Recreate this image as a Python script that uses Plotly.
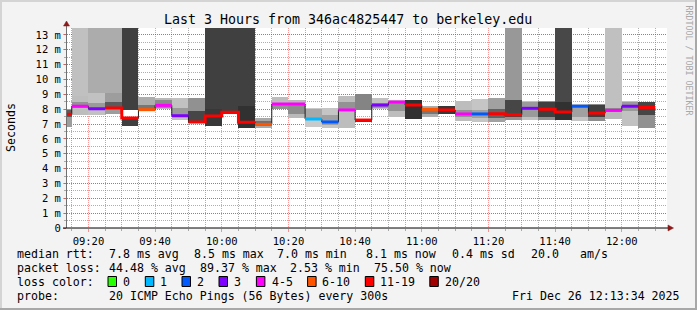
import plotly.graph_objects as go
from datetime import datetime, timedelta

DAY = "2025-12-26"
INF = float("inf")

# ---------------- data ----------------
bin_start = ["09:10", "09:15", "09:20", "09:25", "09:30", "09:35", "09:40", "09:45", "09:50", "09:55",
             "10:00", "10:05", "10:10", "10:15", "10:20", "10:25", "10:30", "10:35", "10:40", "10:45",
             "10:50", "10:55", "11:00", "11:05", "11:10", "11:15", "11:20", "11:25", "11:30", "11:35",
             "11:40", "11:45", "11:50", "11:55", "12:00", "12:05"]

median_ms = [7.66, 8.20, 8.03, 8.08, 7.40, 7.97, 8.26, 7.56, 7.14, 7.54,
             7.79, 7.12, 6.98, 8.35, 8.35, 7.34, 7.14, 7.95, 7.27, 8.28,
             8.48, 8.28, 7.99, 7.95, 7.68, 7.68, 7.70, 7.63, 8.06, 7.99,
             7.81, 8.20, 7.74, 7.92, 8.20, 8.12]

loss_cnt = [12, 4, 3, 12, 16, 8, 5, 3, 15, 17,
            14, 18, 9, 4, 5, 1, 2, 4, 15, 3,
            4, 18, 8, 17, 4, 2, 11, 15, 3, 16,
            18, 2, 16, 5, 3, 15]

ping_lo = [6.80, 7.60, 7.60, 7.70, 6.85, 7.85, 8.00, 7.30, 7.08, 6.85,
           7.72, 6.75, 6.75, 8.00, 7.40, 6.80, 6.75, 6.75, 7.20, 8.00,
           7.50, 7.34, 7.50, 7.65, 7.20, 7.16, 7.16, 7.30, 7.30, 7.30,
           7.27, 7.20, 7.20, 7.35, 6.85, 6.75]
ping_hi = [8.00, 8.90, 9.10, 9.10, 7.50, 8.80, 8.75, 8.75, 8.75, 8.00,
           7.85, 8.20, 7.40, 8.80, 8.60, 8.10, 8.10, 8.90, 7.32, 8.75,
           8.60, 8.60, 8.20, 8.20, 8.55, 8.70, 8.78, 8.60, 8.55, 8.55,
           8.50, 8.35, 8.35, 8.10, 8.55, 8.50]
core_lo = [7.50, 8.05, 7.95, 8.00, 6.85, 7.95, 8.10, 7.45, 7.10, 6.85,
           7.72, 6.75, 6.90, 8.00, 7.70, 7.25, 6.95, 7.90, 7.20, 8.10,
           7.90, 7.34, 7.70, 7.65, 7.45, 7.40, 7.40, 7.45, 7.50, 7.50,
           7.27, 7.50, 7.50, 7.80, 7.90, 7.60]
core_hi = [7.95, 8.50, 8.45, 8.50, 7.45, 8.30, 8.60, 8.10, 7.90, 8.00,
           7.85, 8.20, 7.20, 8.35, 8.30, 8.00, 7.60, 8.50, 7.32, 8.45,
           8.50, 8.60, 8.10, 8.20, 7.95, 7.95, 8.00, 8.60, 8.50, 8.50,
           8.50, 8.20, 8.30, 8.10, 8.50, 8.50]

# upper ping cluster (INF = beyond the top of the chart)
upper_lo = [None, 8.90, 9.10, 9.10, 7.95, None, None, None, None, 8.00,
            7.90, 8.20, None, None, None, None, None, None, 7.95, None,
            None, None, None, None, None, None, None, 8.60, None, None,
            8.50, None, None, 8.10, None, None]
upper_hi = [None, INF, INF, INF, INF, None, None, None, None, INF,
            INF, INF, None, None, None, None, None, None, 9.00, None,
            None, None, None, None, None, None, None, INF, None, None,
            INF, None, None, INF, None, None]
upper_n = [0, 1, 2, 2, 8, 0, 0, 0, 0, 8,
           8, 8, 0, 0, 0, 0, 0, 0, 4, 0,
           0, 0, 0, 0, 0, 0, 0, 3, 0, 0,
           7, 0, 0, 1, 0, 0]

y_ticks = list(range(0, 14))
y_ticktext = ["0"] + [f"{v} m" for v in range(1, 14)]

loss_labels = ["0", "1", "2", "3", "4-5", "6-10", "11-19", "20/20"]
loss_cols = ["#26ff00", "#00b8ff", "#0059ff", "#7e00ff", "#ff00ff", "#ff5500", "#ff0000", "#a10000"]

title_txt = "Last 3 Hours from 346ac4825447 to berkeley.edu"
rtt_stats = ["7.8 ms avg", "8.5 ms max", "7.0 ms min", "8.1 ms now", "0.4 ms sd", "20.0", "am/s"]
loss_stats = ["44.48 % avg", "89.37 % max", "2.53 % min", "75.50 % now"]
probe_txt = "20 ICMP Echo Pings (56 Bytes) every 300s"
stamp_txt = "Fri Dec 26 12:13:34 2025"

# ---------------- helpers ----------------
STEP = 300  # seconds
X0 = datetime.fromisoformat(f"{DAY} 09:13:34")
X1 = X0 + timedelta(hours=3)
YMAX = 200 / 14.85
FONT = "DejaVu Sans Mono"

# figure pixel geometry
L, T, W, H = 67, 28, 600, 200


def PX(px):
    return (px - L) / W


def PY(py):
    return (T + H - py) / H


def t(s):
    return datetime.fromisoformat(f"{DAY} {s}:00")


def gray(v):
    v = int(max(0, min(255, v)))
    return f"rgb({v},{v},{v})"


def loss_class(n):
    if n == 0:
        return 0
    if n == 1:
        return 1
    if n == 2:
        return 2
    if n == 3:
        return 3
    if n <= 5:
        return 4
    if n <= 10:
        return 5
    if n <= 19:
        return 6
    return 7


starts = [t(s) for s in bin_start]
xs = [s.strftime("%Y-%m-%d %H:%M:%S") for s in starts]

fig = go.Figure()


def add_bars(x, base, top, colors):
    fig.add_trace(go.Bar(
        x=x, base=base, y=[b - a for a, b in zip(base, top)],
        width=[STEP * 1000] * len(x), offset=0,
        marker=dict(color=colors, line=dict(width=0)),
        hoverinfo="skip", showlegend=False))


# outer smoke
add_bars(xs, ping_lo, ping_hi, [gray(205 - 4 * n) for n in loss_cnt])
# core smoke
add_bars(xs, core_lo, core_hi, [gray(175 - 7 * n) for n in loss_cnt])
# upper clusters / off-scale pings
ux, ub, ut, uc = [], [], [], []
for i in range(len(xs)):
    if upper_lo[i] is not None:
        ux.append(xs[i])
        ub.append(upper_lo[i])
        ut.append(min(upper_hi[i], YMAX))
        uc.append(gray(max(64, 212 - 20 * upper_n[i])))
add_bars(ux, ub, ut, uc)

# dark median step line
end_last = (starts[-1] + timedelta(seconds=STEP)).strftime("%Y-%m-%d %H:%M:%S")
fig.add_trace(go.Scatter(
    x=xs + [end_last], y=median_ms + [median_ms[-1]],
    mode="lines", line=dict(color="#202020", width=1, shape="hv"),
    hoverinfo="skip", showlegend=False))

# coloured median segments
classes = [loss_class(n) for n in loss_cnt]
for c in sorted(set(classes)):
    sx, sy = [], []
    for i in range(len(xs)):
        if classes[i] != c:
            continue
        sx.append(xs[i])
        sy.append(median_ms[i])
        nxt_same = i + 1 < len(xs) and classes[i + 1] == c
        if not nxt_same:
            e = (starts[i] + timedelta(seconds=STEP)).strftime("%Y-%m-%d %H:%M:%S")
            sx += [e, None]
            sy += [median_ms[i], None]
    fig.add_trace(go.Scatter(
        x=sx, y=sy, mode="lines", connectgaps=False,
        line=dict(color=loss_cols[c], width=3, shape="hv"),
        hoverinfo="skip", showlegend=False))

MAJ = "rgba(255,0,0,0.4)"
MIN = "rgba(120,120,120,0.6)"

fig.update_layout(
    width=697, height=310,
    margin=dict(l=L, r=697 - L - W, t=T, b=310 - T - H),
    paper_bgcolor="#f3f3f3", plot_bgcolor="#ffffff",
    barmode="overlay", bargap=0,
    font=dict(family=FONT, color="#000000"),
    xaxis=dict(
        type="date", range=[X0, X1],
        tickformat="%H:%M", dtick=20 * 60 * 1000, tick0=f"{DAY} 09:20:00",
        showgrid=True, gridcolor=MAJ, griddash="1px,1px", gridwidth=1,
        ticks="outside", ticklen=3, tickcolor=MAJ,
        showline=False, zeroline=False,
        tickfont=dict(family=FONT, size=10.5, color="#000"),
        minor=dict(dtick=STEP * 1000, tick0=f"{DAY} 09:15:00", showgrid=True,
                   gridcolor=MIN, griddash="1px,1px", gridwidth=1,
                   ticks="outside", ticklen=2, tickcolor=MIN),
    ),
    yaxis=dict(
        range=[0, YMAX], tickvals=y_ticks, ticktext=y_ticktext,
        showgrid=True, gridcolor=MAJ, griddash="1px,1px", gridwidth=1,
        ticks="outside", ticklen=3, tickcolor=MAJ,
        showline=False, zeroline=False,
        tickfont=dict(family=FONT, size=10.5, color="#000"),
        minor=dict(dtick=0.5, showgrid=True, gridcolor=MIN, griddash="1px,1px",
                   gridwidth=1, ticks="outside", ticklen=2, tickcolor=MIN),
    ),
)

shapes = []
# frame
shapes.append(dict(type="rect", xref="paper", yref="paper", x0=PX(0), x1=PX(697), y0=PY(0), y1=PY(2),
                   fillcolor="#d4d4d4", line=dict(width=0), layer="above"))
shapes.append(dict(type="rect", xref="paper", yref="paper", x0=PX(0), x1=PX(2), y0=PY(0), y1=PY(310),
                   fillcolor="#d4d4d4", line=dict(width=0), layer="above"))
shapes.append(dict(type="rect", xref="paper", yref="paper", x0=PX(0), x1=PX(697), y0=PY(308), y1=PY(310),
                   fillcolor="#a8a8a8", line=dict(width=0), layer="above"))
shapes.append(dict(type="rect", xref="paper", yref="paper", x0=PX(695), x1=PX(697), y0=PY(0), y1=PY(310),
                   fillcolor="#a8a8a8", line=dict(width=0), layer="above"))
# axes
shapes.append(dict(type="line", xref="paper", yref="paper", x0=PX(66.5), x1=PX(66.5), y0=PY(228), y1=PY(25),
                   line=dict(color="#707070", width=1), layer="above"))
shapes.append(dict(type="line", xref="paper", yref="paper", x0=PX(63), x1=PX(668), y0=PY(228), y1=PY(228),
                   line=dict(color="#000000", width=1), layer="above"))
# arrows
ay = f"M {PX(63.5)} {PY(26)} L {PX(69.5)} {PY(26)} L {PX(66.5)} {PY(21)} Z"
ax = f"M {PX(668)} {PY(225)} L {PX(668)} {PY(231)} L {PX(673.5)} {PY(228)} Z"
for p in (ay, ax):
    shapes.append(dict(type="path", xref="paper", yref="paper", path=p,
                       fillcolor="#8b1a1a", line=dict(color="#8b1a1a", width=0.5), layer="above"))

# loss colour boxes
box_x = [108, 145.3, 182, 219, 256.4, 307.6, 365.3, 429.8]
lab_x = [122, 159, 196.4, 233, 270.7, 321.3, 379, 444]
for bx, col in zip(box_x, loss_cols):
    shapes.append(dict(type="rect", xref="paper", yref="paper", x0=PX(bx), x1=PX(bx + 8.5),
                       y0=PY(286.5), y1=PY(276.5), fillcolor=col,
                       line=dict(color="#000", width=1), layer="above"))
fig.update_layout(shapes=shapes)

ann = []


def txt(s, x, y, size=11.6, anchor="left", color="#000", angle=0, yanchor="middle"):
    ann.append(dict(text=s, x=PX(x), y=PY(y), xref="paper", yref="paper", showarrow=False,
                    xanchor=anchor, yanchor=yanchor, textangle=angle, borderpad=0,
                    font=dict(family=FONT, size=size, color=color)))


txt(title_txt, 348, 19.3, size=13.3, anchor="center")
txt("Seconds", 11, 128, angle=-90, anchor="center")
txt("RRDTOOL / TOBI OETIKER", 688.5, 60, size=8.3, anchor="center", color="#a8a8a8", angle=90)

txt("median rtt:", 16, 254)
for s, x in zip(rtt_stats, [107.6, 193, 276, 364.9, 451, 530, 579]):
    txt(s, x, 254)
txt("packet loss:", 16, 268)
for s, x in zip(loss_stats, [107.6, 198.5, 289, 373]):
    txt(s, x, 268)
txt("loss color:", 16, 282)
for s, x in zip(loss_labels, lab_x):
    txt(s, x, 282)
txt("probe:", 16, 296)
txt(probe_txt, 107.6, 296)
txt(stamp_txt, 681, 296, anchor="right")
fig.update_layout(annotations=ann)

fig.write_html("out.html")
